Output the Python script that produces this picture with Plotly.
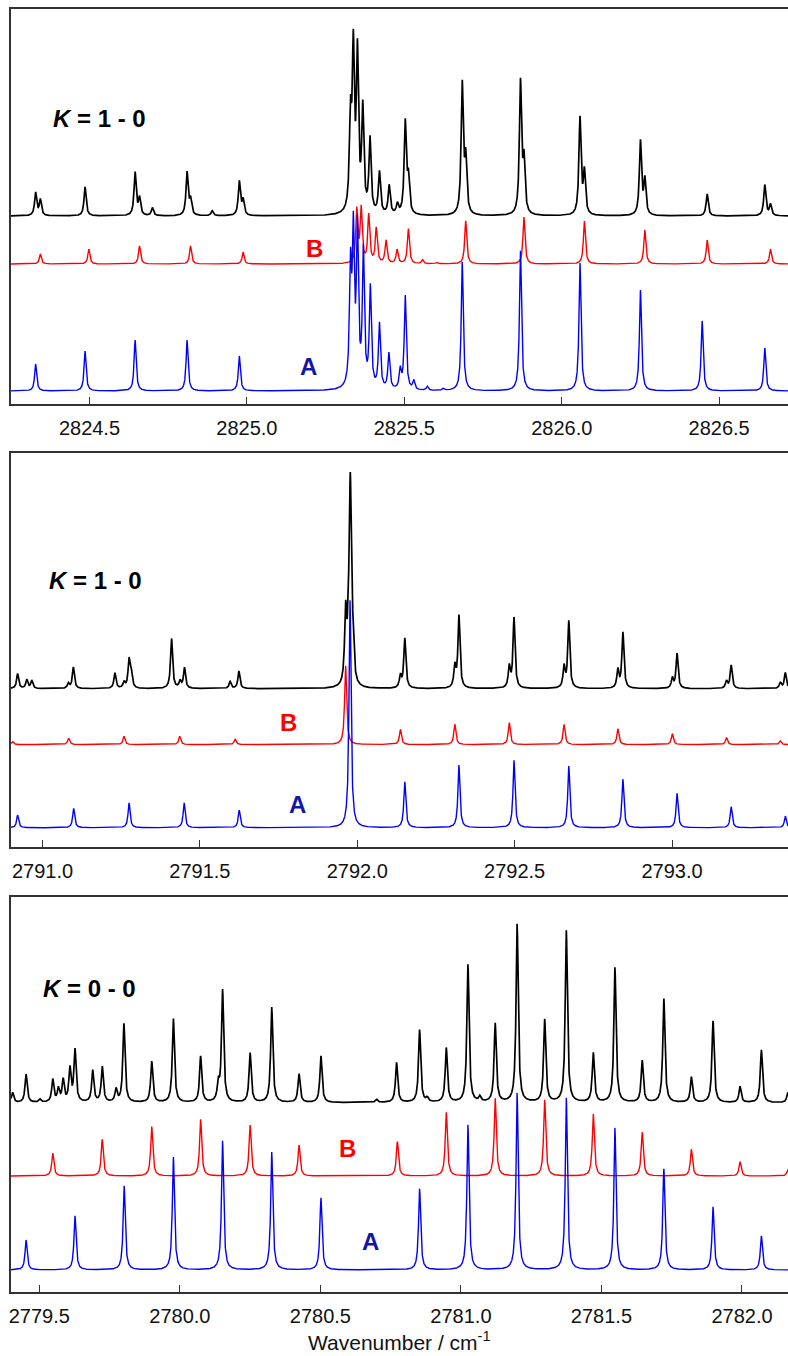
import numpy as np
import plotly.graph_objects as go

# ---------------- data (line positions in cm-1, peak intensities in arb. units) -------------
# Panel 1 : K = 1 - 0, 2824.3 - 2826.7 cm-1
p1_obs_pos = [2824.329, 2824.344, 2824.486, 2824.645, 2824.659, 2824.700, 2824.810, 2824.821,
              2824.890, 2824.976, 2824.988, 2825.329, 2825.338, 2825.351, 2825.368, 2825.391,
              2825.421, 2825.452, 2825.478, 2825.503, 2825.513, 2825.684, 2825.695, 2825.869,
              2825.880, 2826.058, 2826.072, 2826.250, 2826.264, 2826.462, 2826.645, 2826.663]
p1_obs_int = [23, 16, 29, 43, 17, 8, 43, 15,
              5, 34, 15, 88, 157, 155, 102, 74,
              42, 29, 10, 92, 34, 130, 53, 132,
              51, 97, 42, 74, 35, 22, 31, 11]
p1_B_pos = [2824.344, 2824.498, 2824.659, 2824.821, 2824.988, 2825.349, 2825.363, 2825.387,
            2825.411, 2825.442, 2825.477, 2825.513, 2825.558, 2825.603, 2825.695, 2825.880,
            2826.072, 2826.264, 2826.462, 2826.663]
p1_B_int = [10, 15, 18, 18, 12, 53, 54, 48,
            35, 23, 14, 35, 4, 1.5, 43, 47,
            43, 34, 24, 15]
p1_A_pos = [2824.329, 2824.486, 2824.645, 2824.810, 2824.976, 2825.329, 2825.338, 2825.351,
            2825.370, 2825.392, 2825.421, 2825.451, 2825.487, 2825.503, 2825.530, 2825.573,
            2825.624, 2825.684, 2825.869, 2826.058, 2826.250, 2826.446, 2826.645]
p1_A_int = [27, 40, 51, 51, 35, 115, 148, 155,
            135, 100, 65, 36, 19, 94, 9, 4,
            2, 129, 140, 128, 101, 70, 43]

# Panel 2 : K = 1 - 0, 2790.9 - 2793.4 cm-1
p2_obs_pos = [2790.921, 2790.950, 2790.966, 2791.082, 2791.098, 2791.230, 2791.259, 2791.275,
              2791.282, 2791.410, 2791.437, 2791.451, 2791.596, 2791.624, 2791.963, 2791.972,
              2791.978, 2791.986, 2792.137, 2792.151, 2792.310, 2792.323, 2792.483, 2792.498,
              2792.657, 2792.672, 2792.828, 2792.844, 2793.001, 2793.016, 2793.173, 2793.188,
              2793.344, 2793.360]
p2_obs_int = [15, 9, 8, 5, 21.6, 15.6, 6, 28,
              14, 50, 7, 20.6, 7, 17.6, 70, 40,
              195, 35, 12, 50, 21, 72.6, 21, 70.6,
              21, 67.3, 18.3, 56, 10, 35, 7.3, 23.3,
              6, 16]
p2_B_pos = [2790.905, 2791.083, 2791.259, 2791.436, 2791.612, 2791.963, 2792.137, 2792.310,
            2792.483, 2792.657, 2792.828, 2793.001, 2793.173, 2793.344]
p2_B_int = [3, 6.6, 8.3, 8.3, 5.3, 79, 15.3, 20.3,
            22, 20.3, 16, 11, 7, 3.6]
p2_A_pos = [2790.921, 2791.099, 2791.275, 2791.450, 2791.625, 2791.977, 2792.151, 2792.323,
            2792.498, 2792.672, 2792.844, 2793.016, 2793.188, 2793.360]
p2_A_int = [12.7, 19.4, 25, 25, 17.7, 228, 46, 62.7,
            67.7, 61.7, 48.7, 34.4, 21, 11.7]

# Panel 3 : K = 0 - 0, 2779.4 - 2782.2 cm-1
p3_obs_pos = [2779.405, 2779.453, 2779.502, 2779.548, 2779.568, 2779.585, 2779.609, 2779.627,
              2779.690, 2779.724, 2779.773, 2779.801, 2779.900, 2779.977, 2780.074, 2780.137,
              2780.152, 2780.250, 2780.327, 2780.424, 2780.502, 2780.700, 2780.771, 2780.853,
              2780.880, 2780.948, 2781.025, 2781.067, 2781.122, 2781.200, 2781.298, 2781.375,
              2781.471, 2781.548, 2781.645, 2781.722, 2781.820, 2781.897, 2781.993, 2782.069,
              2782.163]
p3_obs_int = [10, 28.4, 3, 22.7, 13, 22, 33, 52,
              31.7, 35.4, 12.7, 78.7, 41, 83.7, 46, 17,
              111.7, 49.4, 95.4, 28.4, 46.7, 3, 40, 72.7,
              4, 54.4, 137.7, 5, 78.7, 178.4, 82.7, 171.7,
              49.4, 135, 41.7, 103.7, 25.4, 81.7, 16, 52.7,
              10]
p3_B_pos = [2779.548, 2779.724, 2779.900, 2780.074, 2780.250, 2780.424, 2780.774, 2780.948,
            2781.122, 2781.298, 2781.471, 2781.645, 2781.820, 2781.993, 2782.163]
p3_B_int = [22.7, 36.7, 49.3, 56.7, 51, 31, 34.3, 63.7,
            77.7, 76, 62, 43.7, 26.7, 14.3, 6]
p3_A_pos = [2779.453, 2779.627, 2779.802, 2779.977, 2780.152, 2780.327, 2780.502, 2780.853,
            2781.025, 2781.200, 2781.375, 2781.548, 2781.722, 2781.897, 2782.069]
p3_A_int = [30, 54, 84, 113, 129, 118, 72, 81,
            145, 177, 172, 142, 101, 63, 34]

panel_labels = ["<b><i>K</i> = 1 - 0</b>", "<b><i>K</i> = 1 - 0</b>", "<b><i>K</i> = 0 - 0</b>"]
x_ranges = [(2824.2508, 2826.7187), (2790.8999, 2793.3685), (2779.3993, 2782.1637)]
tick_vals = [[2824.5, 2825.0, 2825.5, 2826.0, 2826.5],
             [2791.0, 2791.5, 2792.0, 2792.5, 2793.0],
             [2779.5, 2780.0, 2780.5, 2781.0, 2781.5, 2782.0]]

# ---------------- styling / layout constants --------------------------------------------
offsets = [dict(obs=188, B=140, A=13), dict(obs=158.7, B=102.7, A=19.3), dict(obs=189.3, B=116, A=22)]
hwhm = [dict(obs=0.0040, B=0.0038, A=0.0038), dict(obs=0.0038, B=0.0038, A=0.0038),
        dict(obs=0.0045, B=0.0045, A=0.0045)]
domains = [(0.69212, 1.0), (0.34684, 0.65394), (0.0, 0.30787)]
label_xy = [(0.1145, 0.9150), (0.1087, 0.5549), (0.1010, 0.2369)]
B_xy = [(0.390, 0.8137), (0.3565, 0.4435), (0.4337, 0.1115)]
A_xy = [(0.3835, 0.7217), (0.3681, 0.3796), (0.4633, 0.0390)]

FONT = "Liberation Sans, Arial, Helvetica, sans-serif"
AXC = "#333333"


def spectrum(grid, pos, inten, g):
    s = np.zeros_like(grid)
    for p, a in zip(pos, inten):
        s += a / (1.0 + ((grid - p) / g) ** 2)
    return s


data = [
    (p1_obs_pos, p1_obs_int, p1_B_pos, p1_B_int, p1_A_pos, p1_A_int),
    (p2_obs_pos, p2_obs_int, p2_B_pos, p2_B_int, p2_A_pos, p2_A_int),
    (p3_obs_pos, p3_obs_int, p3_B_pos, p3_B_int, p3_A_pos, p3_A_int),
]

fig = go.Figure()
annotations = []
layout = {}
for i, (op, oi, bp, bi, ap, ai) in enumerate(data):
    n = i + 1
    xa = "x" if n == 1 else f"x{n}"
    ya = "y" if n == 1 else f"y{n}"
    x0, x1 = x_ranges[i]
    grid = np.linspace(x0, x1, 8000)
    for pos, inten, key, col, w in [(op, oi, "obs", "#000000", 1.7),
                                    (bp, bi, "B", "#ff0000", 1.4),
                                    (ap, ai, "A", "#0000ff", 1.4)]:
        yv = offsets[i][key] + spectrum(grid, pos, inten, hwhm[i][key])
        fig.add_trace(go.Scatter(x=grid, y=yv, mode="lines", xaxis=xa, yaxis=ya,
                                 line=dict(color=col, width=w), showlegend=False,
                                 hoverinfo="skip"))
    xkey = "xaxis" if n == 1 else f"xaxis{n}"
    ykey = "yaxis" if n == 1 else f"yaxis{n}"
    layout[xkey] = dict(domain=[0, 1], anchor=ya, range=[x0, x1], showline=True, mirror=True,
                        linecolor=AXC, linewidth=1.5, ticks="inside", ticklen=7, tickwidth=1.2,
                        tickcolor=AXC, tickvals=tick_vals[i],
                        ticktext=[f"{v:.1f}" for v in tick_vals[i]],
                        tickfont=dict(family=FONT, size=20, color="#111111"),
                        ticklabelstandoff=5, showgrid=False, zeroline=False)
    layout[ykey] = dict(domain=list(domains[i]), anchor=xa, range=[0, 395], showline=True,
                        mirror=False, linecolor=AXC, linewidth=1.5, ticks="",
                        showticklabels=False, showgrid=False, zeroline=False)
    annotations.append(dict(text=panel_labels[i], x=label_xy[i][0], y=label_xy[i][1],
                            xref="paper", yref="paper", showarrow=False,
                            xanchor="center", yanchor="middle",
                            font=dict(family=FONT, size=24, color="#000000")))
    annotations.append(dict(text="<b>B</b>", x=B_xy[i][0], y=B_xy[i][1], xref="paper",
                            yref="paper", showarrow=False, xanchor="center", yanchor="middle",
                            font=dict(family=FONT, size=24, color="#ff0000")))
    annotations.append(dict(text="<b>A</b>", x=A_xy[i][0], y=A_xy[i][1], xref="paper",
                            yref="paper", showarrow=False, xanchor="center", yanchor="middle",
                            font=dict(family=FONT, size=24, color="#1414a8")))

annotations.append(dict(text="Wavenumber / cm<sup>-1</sup>", x=0.5, y=-0.0382, xref="paper",
                        yref="paper", showarrow=False, xanchor="center", yanchor="middle",
                        font=dict(family=FONT, size=21, color="#111111")))

fig.update_layout(width=788, height=1356, margin=dict(l=11, r=0, t=9, b=64),
                  paper_bgcolor="white", plot_bgcolor="white",
                  annotations=annotations, **layout)

fig.write_html("out.html")
